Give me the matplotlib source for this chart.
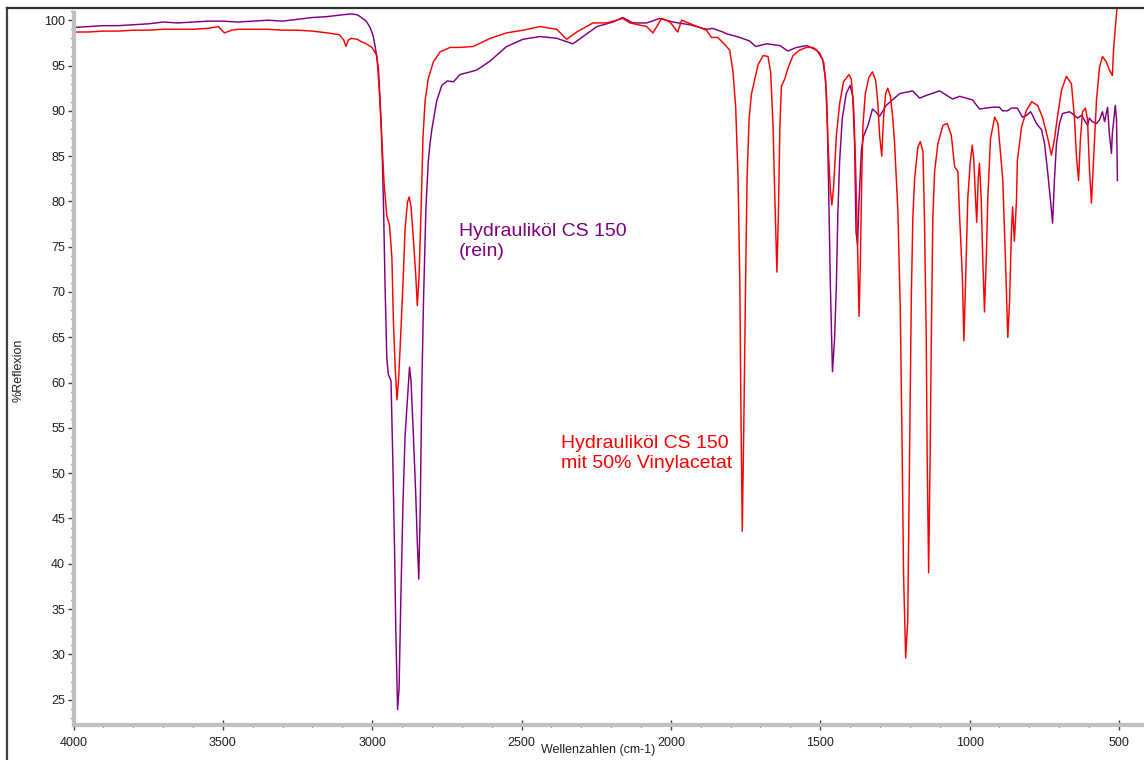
import matplotlib
matplotlib.use("Agg")
import matplotlib.pyplot as plt
from matplotlib.lines import Line2D
from matplotlib.ticker import MultipleLocator

plt.rcParams['font.family'] = ['Liberation Sans', 'DejaVu Sans']

# IR spectrum: pure hydraulic oil CS 150
wn_rein = [4000, 3950, 3900, 3850, 3800, 3750, 3700, 3650, 3600, 3550, 3500, 3450, 3400,
           3350, 3300, 3250, 3200, 3150, 3100, 3070, 3050, 3040, 3020, 3007, 2997, 2990,
           2979, 2971, 2966, 2962, 2957, 2951, 2946, 2937, 2931, 2925, 2921, 2915, 2910,
           2904, 2897, 2890, 2882, 2875, 2870, 2862, 2854, 2849, 2844, 2839, 2834, 2828,
           2820, 2812, 2806, 2800, 2784, 2767, 2748, 2728, 2706, 2683, 2650, 2605, 2550,
           2495, 2438, 2382, 2328, 2294, 2248, 2194, 2161, 2127, 2081, 2037, 1993, 1936,
           1881, 1860, 1826, 1813, 1769, 1736, 1716, 1679, 1635, 1608, 1579, 1545, 1512,
           1492, 1482, 1476, 1472, 1466, 1459, 1452, 1446, 1441, 1435, 1426, 1413, 1400,
           1391, 1385, 1380, 1375, 1370, 1362, 1355, 1340, 1325, 1312, 1301, 1279, 1234,
           1191, 1167, 1145, 1100, 1057, 1033, 990, 967, 923, 900, 890, 873, 860, 840,
           823, 809, 796, 789, 776, 759, 749, 739, 729, 722, 716, 709, 699, 689, 665,
           649, 639, 625, 605, 599, 589, 575, 565, 555, 548, 538, 532, 525, 522, 512,
           508, 505]
pct_rein = [99.2, 99.3, 99.4, 99.4, 99.5, 99.6, 99.8, 99.7, 99.8, 99.9, 99.9, 99.8, 99.9,
            100.0, 99.9, 100.1, 100.3, 100.4, 100.6, 100.7, 100.6, 100.4, 99.9, 99.2, 98.3, 97.1,
            94.6, 89.5, 84.5, 79.4, 70.8, 62.7, 60.9, 60.2, 51.5, 41.4, 32.8, 23.9, 26.2,
            36.3, 46.5, 54.1, 58.1, 61.7, 60.2, 54.1, 47.5, 42.4, 38.3, 46.5, 59.2, 69.3,
            79.4, 84.5, 86.5, 88.0, 91.1, 92.8, 93.3, 93.2, 94.0, 94.2, 94.5, 95.5, 97.1,
            97.9, 98.2, 98.0, 97.4, 98.2, 99.3, 99.8, 100.3, 99.7, 99.7, 100.2, 99.8, 99.5,
            99.0, 99.1, 98.7, 98.5, 98.1, 97.7, 97.1, 97.4, 97.2, 96.6, 97.0, 97.2, 96.7,
            95.7, 93.5, 88.4, 81.7, 70.7, 61.2, 64.8, 70.7, 78.6, 84.5, 89.2, 91.9, 92.8,
            91.6, 86.4, 76.6, 75.2, 80.1, 85.7, 87.2, 88.4, 90.2, 89.8, 89.4, 90.6, 91.9,
            92.2, 91.4, 91.7, 92.2, 91.3, 91.6, 91.2, 90.2, 90.4, 90.4, 90.0, 90.0, 90.3, 90.3,
            89.3, 89.5, 89.9, 89.5, 88.6, 87.9, 86.4, 83.4, 80.1, 77.6, 82.3, 86.4, 88.6, 89.7, 89.9,
            89.5, 89.2, 89.5, 88.4, 89.2, 88.8, 88.6, 89.0, 89.9, 88.8, 90.4, 87.5, 85.3, 87.5, 90.6,
            89.0, 82.3]

# IR spectrum: hydraulic oil CS 150 with 50 % vinyl acetate
wn_va = [4000, 3950, 3900, 3850, 3800, 3750, 3700, 3650, 3600, 3550, 3515, 3495, 3470,
         3450, 3400, 3350, 3300, 3250, 3200, 3150, 3110, 3095, 3088, 3080, 3070, 3050,
         3040, 3020, 3001, 2984, 2976, 2968, 2960, 2951, 2942, 2934, 2929, 2923, 2917,
         2912, 2906, 2897, 2890, 2882, 2876, 2870, 2862, 2854, 2849, 2843, 2836, 2830,
         2823, 2812, 2795, 2773, 2739, 2706, 2662, 2605, 2550, 2495, 2438, 2382, 2349,
         2315, 2261, 2215, 2161, 2137, 2081, 2060, 2031, 2003, 1977, 1964, 1926, 1881,
         1864, 1843, 1819, 1803, 1792, 1783, 1775, 1769, 1766, 1761, 1756, 1750, 1745,
         1738, 1730, 1719, 1708, 1691, 1675, 1666, 1658, 1652, 1647, 1645, 1640, 1635,
         1630, 1619, 1608, 1591, 1569, 1546, 1524, 1502, 1488, 1479, 1474, 1466, 1461,
         1455, 1446, 1435, 1422, 1404, 1396, 1388, 1382, 1376, 1370, 1366, 1361, 1357,
         1349, 1337, 1325, 1314, 1307, 1301, 1294, 1288, 1281, 1274, 1265, 1257, 1251,
         1240, 1232, 1226, 1221, 1214, 1207, 1201, 1195, 1190, 1184, 1173, 1165, 1156,
         1151, 1145, 1142, 1137, 1132, 1128, 1123, 1117, 1106, 1089, 1075, 1061, 1050,
         1039, 1033, 1024, 1019, 1013, 1006, 998, 991, 986, 980, 976, 971, 967, 961,
         956, 950, 944, 939, 930, 916, 905, 889, 880, 872, 866, 860, 856, 850, 843,
         840, 826, 809, 792, 772, 756, 739, 726, 716, 706, 692, 676, 659, 649, 642,
         635, 629, 622, 612, 605, 599, 592, 585, 575, 565, 555, 542, 532, 522, 518,
         512, 508, 505]
pct_va = [98.7, 98.7, 98.8, 98.8, 98.9, 98.9, 99.0, 99.0, 99.0, 99.1, 99.3, 98.6, 98.9,
          99.0, 99.0, 99.0, 98.9, 98.9, 98.8, 98.6, 98.4, 97.8, 97.1, 97.8, 98.0, 97.9,
          97.7, 97.4, 97.0, 96.1, 92.1, 87.0, 81.9, 78.4, 77.4, 73.8, 66.8, 61.7, 58.1,
          60.1, 64.2, 70.8, 76.9, 79.9, 80.5, 79.4, 75.8, 71.8, 68.5, 71.8, 79.4, 87.0,
          91.1, 93.6, 95.4, 96.5, 97.0, 97.0, 97.1, 98.0, 98.6, 98.9, 99.3, 99.0, 97.9,
          98.7, 99.7, 99.7, 100.2, 99.7, 99.3, 98.6, 100.2, 99.8, 98.7, 100.0, 99.5, 98.9,
          98.1, 98.1, 97.3, 96.7, 94.3, 90.4, 82.5, 70.7, 58.8, 43.6, 54.9, 70.7, 82.5,
          89.2, 91.9, 93.5, 95.1, 96.1, 96.0, 94.3, 88.4, 80.5, 74.6, 72.2, 78.6, 88.4,
          92.7, 93.5, 94.7, 96.1, 96.7, 97.0, 97.0, 96.4, 95.3, 91.9, 86.4, 81.3, 79.6,
          81.7, 87.2, 90.8, 93.2, 94.0, 93.5, 90.4, 84.5, 76.6, 67.3, 72.6, 82.5, 88.4,
          91.9, 93.7, 94.3, 93.3, 90.8, 87.2, 85.0, 89.2, 91.9, 92.5, 91.6, 89.2, 86.4,
          79.0, 68.1, 53.3, 38.9, 29.6, 33.7, 52.0, 69.4, 78.1, 82.5, 86.0, 86.6, 85.5,
          78.1, 65.0, 52.0, 39.0, 52.0, 65.0, 78.1, 83.3, 86.4, 88.4, 88.6, 87.3, 83.8,
          83.3, 78.1, 71.6, 64.6, 71.6, 80.3, 84.2, 86.2, 84.7, 80.3, 77.7, 82.5, 84.2, 80.3,
          73.8, 67.8, 73.8, 80.3, 86.9, 89.3, 88.6, 82.5, 73.8, 65.0, 69.0, 76.5, 79.4, 75.6, 80.0,
          84.5, 88.2, 90.1, 91.0, 90.6, 89.3, 87.1, 85.1, 86.8, 89.3, 92.3, 93.8, 93.0, 89.3, 84.9,
          82.3, 86.8, 89.9, 90.3, 89.0, 83.8, 79.8, 84.5, 91.2, 94.8, 96.0, 95.4, 94.5, 93.9, 96.7,
          99.2, 100.7, 102.0]

x_ticks = [4000, 3500, 3000, 2500, 2000, 1500, 1000, 500]
y_ticks = [25, 30, 35, 40, 45, 50, 55, 60, 65, 70, 75, 80, 85, 90, 95, 100]

W, H = 1144, 760
fig = plt.figure(figsize=(W / 100, H / 100), dpi=100)
fig.patch.set_facecolor('white')

left_px, bottom_px, top_px = 73.5, 725, 8
ax = fig.add_axes([left_px / W, (H - bottom_px) / H, 1 - left_px / W, (bottom_px - top_px) / H])
ax.set_xlim(4000, 416)
ax.set_ylim(22.2, 101.35)

purple = '#800080'
red = '#ff0000'
ax.plot(wn_rein, pct_rein, color=purple, lw=1.05)
ax.plot(wn_va, pct_va, color=red, lw=1.05)

for s in ('top', 'right'):
    ax.spines[s].set_visible(False)
for s in ('left', 'bottom'):
    ax.spines[s].set_color('#c0c0c0')
    ax.spines[s].set_linewidth(3)
ax.spines['left'].set_bounds(22.2, 100.8)

ax.set_xticks(x_ticks)
ax.set_yticks(y_ticks)
ax.xaxis.set_minor_locator(MultipleLocator(100))
ax.yaxis.set_minor_locator(MultipleLocator(1))
ax.tick_params(axis='x', which='major', direction='inout', length=7, width=1,
               color='#404040', labelsize=9, pad=5, labelcolor='#202020')
ax.tick_params(axis='x', which='minor', direction='inout', length=2.5, width=1, color='#404040')
ax.tick_params(axis='y', which='major', direction='out', length=4, width=1,
               color='#404040', labelsize=9, pad=2, labelcolor='#202020')
ax.tick_params(axis='y', which='minor', direction='out', length=2, width=1, color='#404040')

fig.text(598 / W, 1 - 750 / H, 'Wellenzahlen (cm-1)', ha='center', va='center',
         fontsize=9, color='#202020')
fig.text(18 / W, 1 - 370 / H, '%Reflexion', ha='center', va='center', rotation=90,
         fontsize=9, color='#202020')

ax.text(2709, 77.6, 'Hydrauliköl CS 150\n(rein)', color=purple, fontsize=14,
        ha='left', va='top', linespacing=1.2)
ax.text(2368, 54.2, 'Hydrauliköl CS 150\nmit 50% Vinylacetat', color=red, fontsize=14,
        ha='left', va='top', linespacing=1.2)

# outer frame of the plot window
fig.add_artist(Line2D([7 / W, 7 / W], [0, 1 - 8 / H], transform=fig.transFigure,
                      color='#404040', lw=1.6))
fig.add_artist(Line2D([7 / W, 1], [1 - 8 / H, 1 - 8 / H], transform=fig.transFigure,
                      color='#303030', lw=1.6))

fig.savefig('out.png', dpi=100, facecolor='white')
